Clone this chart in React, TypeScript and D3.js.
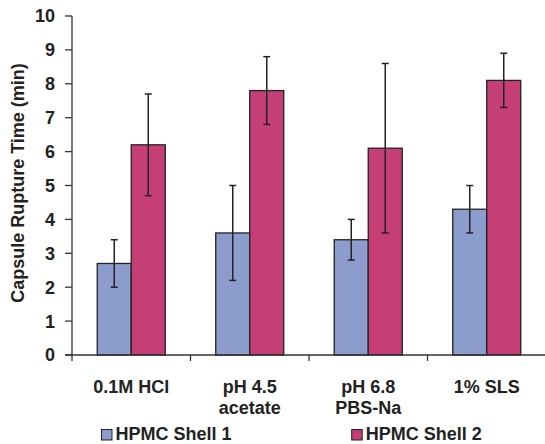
import React from "react";
import * as d3 from "d3";

const categories = [["0.1M HCl"], ["pH 4.5", "acetate"], ["pH 6.8", "PBS-Na"], ["1% SLS"]];
const seriesNames = ["HPMC Shell 1", "HPMC Shell 2"];
const shell1 = [2.7, 3.6, 3.4, 4.3];
const shell1Low = [2.0, 2.2, 2.8, 3.6];
const shell1High = [3.4, 5.0, 4.0, 5.0];
const shell2 = [6.2, 7.8, 6.1, 8.1];
const shell2Low = [4.7, 6.8, 3.6, 7.3];
const shell2High = [7.7, 8.8, 8.6, 8.9];
const yTicks = [0, 1, 2, 3, 4, 5, 6, 7, 8, 9, 10];
const colors = ["#8C9CCC", "#C53F76"];

const W = 545, H = 444;
const left = 72, right = 546, top = 16, bottom = 355;
const font = "'Liberation Sans', Arial, Helvetica, sans-serif";

export default function App() {
  const catIdx = categories.map((_, i) => String(i));
  const x = d3.scaleBand().domain(catIdx).range([left, right]).padding(0);
  const y = d3.scaleLinear().domain([0, 10]).range([bottom, top]);
  const bw = x.bandwidth();
  const barW = 34;
  const inner = d3.scaleBand().domain(seriesNames).range([bw / 2 - barW, bw / 2 + barW]).padding(0);
  const vals = [shell1, shell2];
  const lows = [shell1Low, shell2Low];
  const highs = [shell1High, shell2High];
  const stroke = "#222";

  return (
    <svg width={W} height={H} style={{ position: "absolute", left: 0, top: 0, background: "#fff" }} fontFamily={font}>
      {catIdx.map((c, i) => (
        <g key={c} transform={`translate(${x(c)},0)`}>
          {seriesNames.map((s, si) => {
            const v = vals[si][i];
            const bx = inner(s)!;
            const cx = bx + inner.bandwidth() / 2;
            return (
              <g key={s}>
                <rect x={bx} y={y(v)} width={inner.bandwidth()} height={y(0) - y(v)} fill={colors[si]} stroke={stroke} strokeWidth={1.3} />
                <line x1={cx} x2={cx} y1={y(lows[si][i])} y2={y(highs[si][i])} stroke={stroke} strokeWidth={1.5} />
                <line x1={cx - 3.5} x2={cx + 3.5} y1={y(lows[si][i])} y2={y(lows[si][i])} stroke={stroke} strokeWidth={1.5} />
                <line x1={cx - 3.5} x2={cx + 3.5} y1={y(highs[si][i])} y2={y(highs[si][i])} stroke={stroke} strokeWidth={1.5} />
              </g>
            );
          })}
        </g>
      ))}
      <line x1={left} x2={left} y1={top} y2={bottom} stroke="#333" strokeWidth={1.3} />
      {yTicks.map((t) => (
        <g key={t}>
          <line x1={left - 7} x2={left} y1={y(t)} y2={y(t)} stroke="#333" strokeWidth={1.3} />
          <text x={left - 17} y={y(t)} dy="0.36em" textAnchor="end" fontSize={18} fontWeight="bold" fill="#222">{t}</text>
        </g>
      ))}
      <line x1={left - 7} x2={W} y1={bottom} y2={bottom} stroke="#333" strokeWidth={1.3} />
      {catIdx.map((c) => (
        <line key={c} x1={x(c)!} x2={x(c)!} y1={bottom} y2={bottom + 6} stroke="#333" strokeWidth={1.3} />
      ))}
      {categories.map((lines, i) => (
        <text key={i} x={x(String(i))! + bw / 2} y={392.5} textAnchor="middle" fontSize={18} fontWeight="bold" fill="#222">
          {lines.map((l, li) => (
            <tspan key={li} x={x(String(i))! + bw / 2} dy={li === 0 ? 0 : 21.5}>{l}</tspan>
          ))}
        </text>
      ))}
      <text transform={`translate(24,183) rotate(-90)`} textAnchor="middle" fontSize={18} fontWeight="bold" fill="#222">Capsule Rupture Time (min)</text>
      {seriesNames.map((s, si) => {
        const lx = si === 0 ? 101.5 : 351.7;
        return (
          <g key={s}>
            <rect x={lx} y={429.5} width={10.5} height={10.5} fill={colors[si]} stroke={stroke} strokeWidth={1} />
            <text x={lx + 14} y={440} fontSize={18} fontWeight="bold" fill="#222">{s}</text>
          </g>
        );
      })}
    </svg>
  );
}
